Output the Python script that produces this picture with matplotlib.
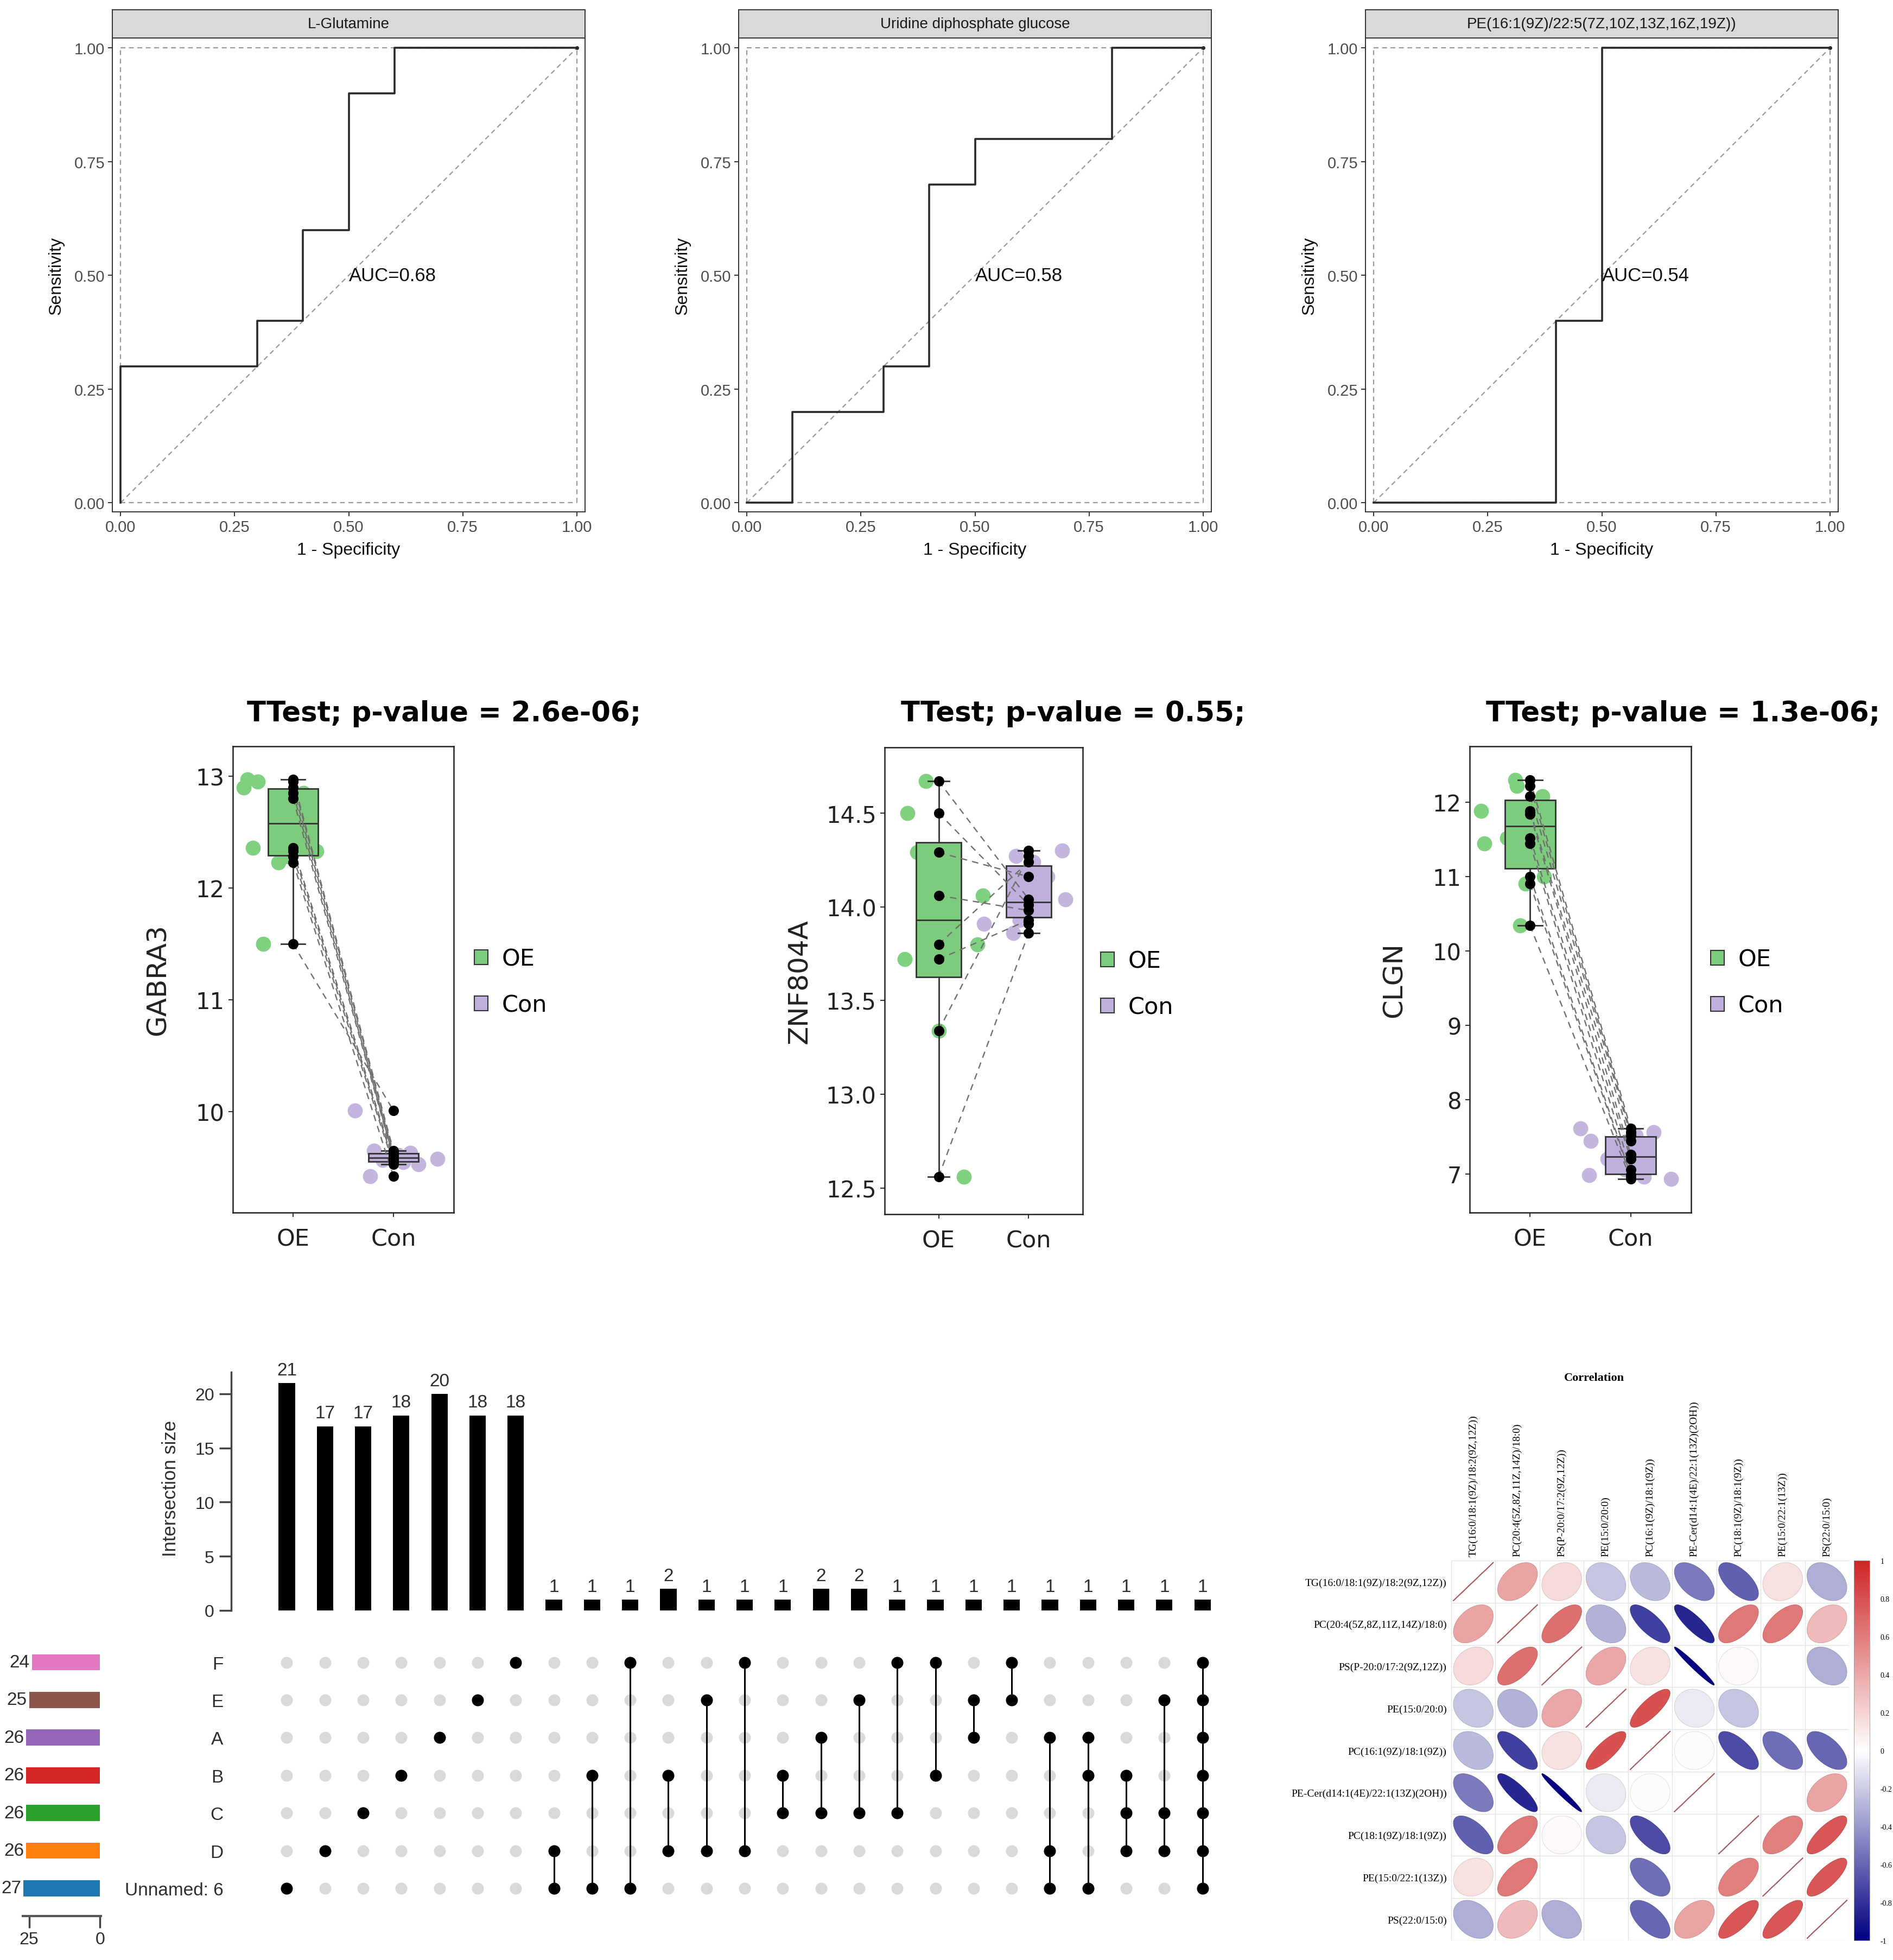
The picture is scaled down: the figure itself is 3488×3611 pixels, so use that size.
import numpy as np
import matplotlib
matplotlib.use("Agg")
import matplotlib.pyplot as plt
from matplotlib.patches import Patch, Polygon
from matplotlib.colors import LinearSegmentedColormap, Normalize
from matplotlib.cm import ScalarMappable

# ======================= DATA =======================
# --- ROC curves ---
roc_titles = ["L-Glutamine", "Uridine diphosphate glucose",
              "PE(16:1(9Z)/22:5(7Z,10Z,13Z,16Z,19Z))"]
roc1_fpr = [0.0, 0.0, 0.3, 0.3, 0.4, 0.4, 0.5, 0.5, 0.6, 0.6, 1.0]
roc1_tpr = [0.0, 0.3, 0.3, 0.4, 0.4, 0.6, 0.6, 0.9, 0.9, 1.0, 1.0]
roc2_fpr = [0.0, 0.1, 0.1, 0.3, 0.3, 0.4, 0.4, 0.5, 0.5, 0.8, 0.8, 1.0]
roc2_tpr = [0.0, 0.0, 0.2, 0.2, 0.3, 0.3, 0.7, 0.7, 0.8, 0.8, 1.0, 1.0]
roc3_fpr = [0.0, 0.4, 0.4, 0.5, 0.5, 1.0]
roc3_tpr = [0.0, 0.0, 0.4, 0.4, 1.0, 1.0]
roc_auc = [0.68, 0.58, 0.54]
roc_ticks = [0.0, 0.25, 0.50, 0.75, 1.00]

# --- paired box plots ---
groups = ["OE", "Con"]
genes = ["GABRA3", "ZNF804A", "CLGN"]
pvals = ["2.6e-06", "0.55", "1.3e-06"]

gabra3_oe = [12.97, 12.95, 12.90, 12.85, 12.80, 12.36, 12.33, 12.28, 12.23, 11.50]
gabra3_oe_jit = [-0.455, -0.35, -0.49, 0.10, 0.05, -0.40, 0.235, -0.05, -0.145, -0.30]
gabra3_con = [9.65, 9.63, 9.61, 9.59, 9.58, 9.57, 9.55, 9.53, 9.42, 10.01]
gabra3_con_jit = [-0.196, 0.166, 0.05, -0.02, 0.44, -0.11, 0.097, 0.25, -0.23, -0.386]
gabra3_ticks = [10, 11, 12, 13]

znf_oe = [14.67, 14.50, 14.29, 14.06, 13.80, 13.72, 13.34, 12.56]
znf_oe_jit = [-0.14, -0.345, -0.24, 0.49, 0.43, -0.38, 0.0, 0.28]
znf_con = [14.04, 14.01, 14.16, 13.98, 14.24, 13.93, 14.27, 13.86, 14.30, 13.91]
znf_con_jit = [0.41, -0.05, 0.21, 0.12, 0.05, -0.10, -0.14, -0.17, 0.37, -0.50]
znf_ticks = [12.5, 13.0, 13.5, 14.0, 14.5]

clgn_oe = [12.30, 12.22, 12.08, 11.88, 11.84, 11.52, 11.44, 11.00, 10.90, 10.34]
clgn_oe_jit = [-0.146, -0.13, 0.12, -0.486, 0.16, -0.23, -0.452, 0.14, -0.044, -0.10]
clgn_con = [7.61, 7.56, 7.52, 7.44, 7.26, 7.20, 7.06, 6.98, 6.96, 6.93]
clgn_con_jit = [-0.50, 0.23, 0.05, -0.398, 0.10, -0.23, -0.05, -0.415, 0.13, 0.40]
clgn_ticks = [7, 8, 9, 10, 11, 12]

# --- UpSet ---
set_names = ["F", "E", "A", "B", "C", "D", "Unnamed: 6"]          # top -> bottom
set_sizes = [24, 25, 26, 26, 26, 26, 27]
set_colors = ["#e377c2", "#8c564b", "#9467bd", "#d62728", "#2ca02c", "#ff7f0e", "#1f77b4"]
inter_sizes = [21, 17, 17, 18, 20, 18, 18, 1, 1, 1, 2, 1, 1, 1, 2, 2, 1, 1, 1, 1, 1, 1, 1, 1, 1]
inter_members = [
    ["Unnamed: 6"], ["D"], ["C"], ["B"], ["A"], ["E"], ["F"],
    ["D", "Unnamed: 6"], ["B", "Unnamed: 6"], ["F", "Unnamed: 6"],
    ["B", "D"], ["E", "D"], ["F", "D"], ["B", "C"], ["A", "C"], ["E", "C"],
    ["F", "C"], ["F", "B"], ["E", "A"], ["F", "E"],
    ["A", "D", "Unnamed: 6"], ["A", "B", "Unnamed: 6"], ["B", "C", "D"], ["E", "C", "D"],
    ["F", "E", "A", "B", "C", "D", "Unnamed: 6"],
]
inter_ticks = [0, 5, 10, 15, 20]
setsize_ticks = [25, 0]

# --- correlation ---
corr_labels = ["TG(16:0/18:1(9Z)/18:2(9Z,12Z))", "PC(20:4(5Z,8Z,11Z,14Z)/18:0)",
               "PS(P-20:0/17:2(9Z,12Z))", "PE(15:0/20:0)", "PC(16:1(9Z)/18:1(9Z))",
               "PE-Cer(d14:1(4E)/22:1(13Z)(2OH))", "PC(18:1(9Z)/18:1(9Z))",
               "PE(15:0/22:1(13Z))", "PS(22:0/15:0)"]
N = np.nan
corr_vals = [
    [1.00, 0.42, 0.17, -0.22, -0.27, -0.52, -0.62, 0.14, -0.32],
    [0.42, 1.00, 0.66, -0.30, -0.75, -0.85, 0.62, 0.62, 0.32],
    [0.17, 0.66, 1.00, 0.40, 0.14, -0.98, 0.03, N, -0.32],
    [-0.22, -0.30, 0.40, 1.00, 0.80, -0.08, -0.22, N, N],
    [-0.27, -0.75, 0.14, 0.80, 1.00, 0.02, -0.70, -0.57, -0.60],
    [-0.52, -0.85, -0.98, -0.08, 0.02, 1.00, N, N, 0.42],
    [-0.62, 0.62, 0.03, -0.22, -0.70, N, 1.00, 0.58, 0.78],
    [0.14, 0.62, N, N, -0.57, N, 0.58, 1.00, 0.78],
    [-0.32, 0.32, -0.32, N, -0.60, 0.42, 0.78, 0.78, 1.00],
]
corr_cbar_ticks = [-1, -0.8, -0.6, -0.4, -0.2, 0, 0.2, 0.4, 0.6, 0.8, 1]

# ======================= FIGURE =======================
W, H, DPI = 3488, 3612, 100
fig = plt.figure(figsize=(W / DPI, H / DPI), dpi=DPI)
fig.patch.set_facecolor("white")


def px_axes(l, t, r, b):
    return fig.add_axes([l / W, 1 - b / H, (r - l) / W, (b - t) / H])


def fx(x):
    return x / W


def fy(y):
    return 1 - y / H


SANS = "Liberation Sans"
SERIF = "Liberation Serif"
VERD = "DejaVu Sans"

# ----------------------- ROC row -----------------------
roc_curves = [(roc1_fpr, roc1_tpr), (roc2_fpr, roc2_tpr), (roc3_fpr, roc3_tpr)]
roc_lefts = [207, 1361, 2516]
roc_w = 871
for k, ((fpr, tpr), title, auc) in enumerate(zip(roc_curves, roc_titles, roc_auc)):
    L = roc_lefts[k]
    ax = px_axes(L, 71, L + roc_w, 944)
    dash = dict(ls=(0, (4, 3)), color="#9a9a9a", lw=1.6, zorder=1)
    ax.plot([0, 1], [0, 1], **dash)
    for v in (0, 1):
        ax.plot([0, 1], [v, v], **dash)
        ax.plot([v, v], [0, 1], **dash)
    ax.plot(fpr, tpr, color="#2a2a2a", lw=2.6, zorder=3)
    ax.plot([fpr[-1]], [tpr[-1]], "o", ms=4, color="#2a2a2a", zorder=4)
    ax.text(0.5, 0.5, f"AUC={auc:.2f}", ha="left", va="center", fontsize=25,
            family=SANS, color="#111111", zorder=5)
    ax.set_xlim(-0.018, 1.018)
    ax.set_ylim(-0.02, 1.022)
    ax.set_xticks(roc_ticks, labels=[f"{t:.2f}" for t in roc_ticks], fontsize=21,
                  family=SANS, color="#4d4d4d")
    ax.set_yticks(roc_ticks, labels=[f"{t:.2f}" for t in roc_ticks], fontsize=21,
                  family=SANS, color="#4d4d4d")
    ax.tick_params(length=6, width=1.4, color="#333333", pad=4)
    for s in ax.spines.values():
        s.set_color("#333333")
        s.set_linewidth(1.4)
    fig.text(fx(L + roc_w / 2), fy(1014), "1 - Specificity", ha="center", va="center",
             fontsize=23, family=SANS, color="#111111")
    fig.text(fx(L - 103), fy(508), "Sensitivity", ha="center", va="center",
             rotation=90, fontsize=23, family=SANS, color="#111111")
    sax = px_axes(L, 19, L + roc_w, 71)
    sax.set_facecolor("#d9d9d9")
    sax.set_xticks([])
    sax.set_yticks([])
    for s in sax.spines.values():
        s.set_color("#333333")
        s.set_linewidth(1.4)
    sax.text(0.5, 0.5, title, ha="center", va="center", fontsize=20, family=SANS,
             color="#1a1a1a", transform=sax.transAxes)

# ----------------------- Box plots row -----------------------
GREEN = "#7dcb7d"
GREEN_PT = "#7fd07f"
PURPLE = "#beafdc"
PURPLE_PT = "#c3b5de"

box_sets = [
    (gabra3_oe, gabra3_oe_jit, gabra3_con, gabra3_con_jit, gabra3_ticks, (9.097, 13.267),
     (429, 1376, 836, 2235), 455, 291, (874, 1810), lambda v: f"{v:g}"),
    (znf_oe, znf_oe_jit, znf_con, znf_con_jit, znf_ticks, (12.36, 14.85),
     (1630, 1378, 1995, 2238), 1660, 1473, (2028, 1814), lambda v: f"{v:.1f}"),
    (clgn_oe, clgn_oe_jit, clgn_con, clgn_con_jit, clgn_ticks, (6.48, 12.75),
     (2708, 1376, 3116, 2235), 2738, 2569, (3152, 1811), lambda v: f"{v:g}"),
]

for k, (oe, oej, con, conj, yt, ylim, box, tleft, ylx, leg, fmt) in enumerate(box_sets):
    ax = px_axes(*box)
    ax.scatter(1 + np.array(oej), oe, s=400, color=GREEN_PT, linewidths=0, zorder=1)
    ax.scatter(2 + np.array(conj), con, s=400, color=PURPLE_PT, linewidths=0, zorder=1)
    bp = ax.boxplot([oe, con], positions=[1, 2], widths=0.5, patch_artist=True,
                    showfliers=False, capwidths=0.24, zorder=2,
                    boxprops=dict(edgecolor="#333333", linewidth=2.0),
                    whiskerprops=dict(color="#333333", linewidth=2.0),
                    capprops=dict(color="#333333", linewidth=2.0),
                    medianprops=dict(color="#333333", linewidth=2.0))
    for patch, c in zip(bp["boxes"], [GREEN, PURPLE]):
        patch.set_facecolor(c)
    for a, b in zip(oe, con):
        ax.plot([1, 2], [a, b], ls=(0, (5, 4)), color="#707070", lw=1.7, zorder=3)
    ax.scatter([1] * len(oe), oe, s=190, color="black", linewidths=0, zorder=4)
    ax.scatter([2] * len(con), con, s=190, color="black", linewidths=0, zorder=4)
    ax.set_xlim(0.4, 2.6)
    ax.set_ylim(*ylim)
    ax.set_xticks([1, 2], labels=groups, fontsize=31, color="#222222")
    ax.set_yticks(yt, labels=[fmt(v) for v in yt], fontsize=30, color="#222222")
    ax.tick_params(length=6, width=1.5, color="#333333", pad=5)
    ax.tick_params(axis="x", pad=14)
    for s in ax.spines.values():
        s.set_color("#222222")
        s.set_linewidth(1.8)
    fig.text(fx(tleft), fy(1315), f"TTest; p-value = {pvals[k]};", ha="left", va="center",
             fontsize=37, fontweight="bold", family=VERD, color="black")
    fig.text(fx(ylx), fy((box[1] + box[3]) / 2), genes[k], ha="center", va="center",
             rotation=90, fontsize=36, family=VERD, color="#222222")
    handles = [Patch(facecolor=GREEN, edgecolor="#333333", linewidth=1.5, label="OE"),
               Patch(facecolor=PURPLE, edgecolor="#333333", linewidth=1.5, label="Con")]
    ax.legend(handles=handles, loc="center left", bbox_to_anchor=(fx(leg[0]), fy(leg[1])),
              bbox_transform=fig.transFigure, frameon=False, fontsize=31,
              handlelength=0.58, handleheight=0.6, handletextpad=0.6,
              labelspacing=1.0, borderpad=0, borderaxespad=0)

# ----------------------- UpSet -----------------------
n_int = len(inter_sizes)
xs = np.arange(n_int)
ypos = {name: len(set_names) - 1 - i for i, name in enumerate(set_names)}
UP_TXT = "#2e2e2e"

bax = px_axes(425.5, 2529, 2250.8, 2968)
bax.bar(xs, inter_sizes, width=0.43, color="black")
for x, v in zip(xs, inter_sizes):
    bax.annotate(str(v), xy=(x, v), xytext=(0, 6), textcoords="offset points",
                 ha="center", va="bottom", fontsize=24, family=SANS, color=UP_TXT)
bax.set_xlim(-1.464, n_int - 0.5)
bax.set_ylim(0, 22)
bax.set_xticks([])
bax.set_yticks(inter_ticks, labels=[str(t) for t in inter_ticks], fontsize=23,
               family=SANS, color=UP_TXT)
bax.tick_params(axis="y", length=16, width=2.5, color="#444444", pad=6)
for s in ["top", "right", "bottom"]:
    bax.spines[s].set_visible(False)
bax.spines["left"].set_color("#444444")
bax.spines["left"].set_linewidth(2.5)
fig.text(fx(314), fy(2742), "Intersection size", ha="center", va="center", rotation=90,
         fontsize=25, family=SANS, color=UP_TXT)

mat = px_axes(425.5, 3028.8, 2250.8, 3514.7)
nrows = len(set_names)
for x in xs:
    mat.scatter([x] * nrows, range(nrows), s=250, color="#d9d9d9", linewidths=0, zorder=1)
for x, mem in zip(xs, inter_members):
    ys = [ypos[m] for m in mem]
    if len(ys) > 1:
        mat.plot([x, x], [min(ys), max(ys)], color="black", lw=2.2, zorder=2)
    mat.scatter([x] * len(ys), ys, s=250, color="black", linewidths=0, zorder=3)
mat.set_xlim(-1.464, n_int - 0.5)
mat.set_ylim(-0.5, nrows - 0.5)
mat.set_xticks([])
mat.set_yticks([ypos[n] for n in set_names], labels=set_names, fontsize=24,
               family=SANS, color=UP_TXT)
mat.tick_params(axis="y", length=0, pad=10)
for s in mat.spines.values():
    s.set_visible(False)

sax = px_axes(42, 3028.8, 186, 3531)
sax.barh([ypos[n] for n in set_names], set_sizes, height=0.43, color=set_colors)
for n, v in zip(set_names, set_sizes):
    sax.annotate(str(v), xy=(v, ypos[n]), xytext=(-3, 0), textcoords="offset points",
                 ha="right", va="center", fontsize=24, family=SANS, color=UP_TXT)
sax.set_xlim(27.2, -0.3)
sax.set_ylim(-0.735, nrows - 0.5)
sax.set_yticks([])
sax.set_xticks(setsize_ticks, labels=[str(t) for t in setsize_ticks], fontsize=23,
               family=SANS, color=UP_TXT)
sax.tick_params(axis="x", length=16, width=2.5, color="#444444", pad=4)
for s in ["top", "right", "left"]:
    sax.spines[s].set_visible(False)
sax.spines["bottom"].set_color("#555555")
sax.spines["bottom"].set_linewidth(3)
sax.patch.set_alpha(0)

# ----------------------- Correlation -----------------------
cmap = LinearSegmentedColormap.from_list("nwf", ["#000080", "#FFFFFF", "#CD2626"])
norm = Normalize(-1, 1)
cax_ = px_axes(2674, 2876, 3407, 3576)
nc = len(corr_labels)
t = np.linspace(0, 2 * np.pi, 80)
for i in range(nc):
    for j in range(nc):
        r = corr_vals[i][j]
        if np.isnan(r):
            continue
        d = np.arccos(np.clip(r, -1, 1))
        ex = np.cos(t + d / 2) / 2 * 0.9
        ey = np.cos(t - d / 2) / 2 * 0.9
        col = cmap(norm(r))
        if i == j:
            cax_.plot(j + 0.5 + ex, i + 0.5 - ey, color="#b06060", lw=1.3, zorder=3)
        else:
            edge = tuple(c * 0.9 for c in col[:3])
            cax_.add_patch(Polygon(np.column_stack([j + 0.5 + ex, i + 0.5 - ey]),
                                   closed=True, facecolor=col, edgecolor=edge, lw=0.8,
                                   zorder=3))
for k in range(nc + 1):
    cax_.axhline(k, color="#e3e3e3", lw=1.0, zorder=1)
    cax_.axvline(k, color="#e3e3e3", lw=1.0, zorder=1)
cax_.set_xlim(0, nc)
cax_.set_ylim(nc, 0)
cax_.xaxis.tick_top()
cax_.set_xticks(np.arange(nc) + 0.5, labels=corr_labels, rotation=90, fontsize=14,
                family=SERIF, color="black")
cax_.set_yticks(np.arange(nc) + 0.5, labels=corr_labels, fontsize=14, family=SERIF,
                color="black")
cax_.tick_params(length=0, pad=6)
for s in cax_.spines.values():
    s.set_visible(False)
fig.text(fx(2937), fy(2539), "Correlation", ha="center", va="center", fontsize=16,
         fontweight="bold", family=SERIF, color="black")

cbax = px_axes(3416, 2876, 3445, 3576)
cb = fig.colorbar(ScalarMappable(norm=norm, cmap=cmap), cax=cbax, ticks=corr_cbar_ticks)
cb.ax.set_yticklabels([f"{v:g}" for v in corr_cbar_ticks], fontsize=10, family=SERIF)
cb.ax.tick_params(length=0, pad=14)
cb.outline.set_linewidth(0.6)
cb.outline.set_edgecolor("#999999")

fig.savefig("out.png", dpi=DPI, facecolor="white")
